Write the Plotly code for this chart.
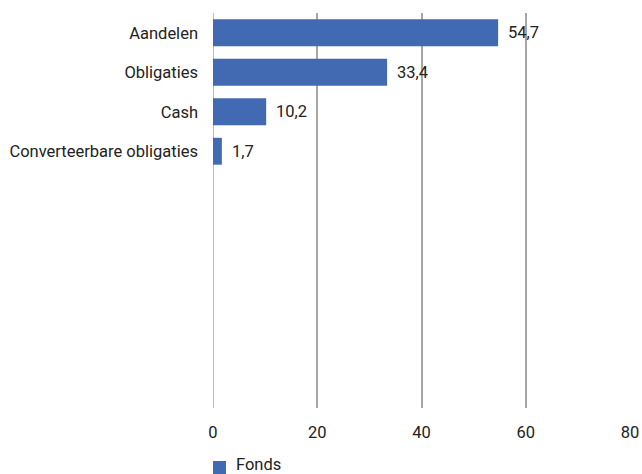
import plotly.graph_objects as go

# Asset allocation of the fund (percent)
categories = ["Aandelen", "Obligaties", "Cash", "Converteerbare obligaties"]
values = [54.7, 33.4, 10.2, 1.7]
series_name = "Fonds"
x_ticks = [0, 20, 40, 60, 80]

bar_color = "#416AB2"
grid_color = "#A6A6A6"
text_color = "#222222"
font_family = "Roboto, Noto Sans, sans-serif"
font_size = 16.5

W, H = 642, 474
M_L, M_R, M_T, M_B = 213, 12, 13, 66
plot_w = W - M_L - M_R
plot_h = H - M_T - M_B


def px_to_paper(px, py):
    """Convert a pixel position in the page to paper coordinates."""
    return (px - M_L) / plot_w, (H - M_B - py) / plot_h


positions = list(range(len(categories)))

fig = go.Figure()
fig.add_trace(go.Bar(
    x=values,
    y=positions,
    orientation="h",
    name=series_name,
    marker=dict(color=bar_color, line=dict(width=0)),
    width=0.68,
    showlegend=False,
    hoverinfo="skip",
))

# value labels to the right of each bar, Dutch decimal comma
for pos, v in zip(positions, values):
    fig.add_annotation(
        x=v, y=pos, xref="x", yref="y",
        text=f"{v:.1f}".replace(".", ","),
        showarrow=False, xanchor="left", yanchor="middle",
        xshift=8,
        font=dict(family=font_family, size=font_size, color=text_color),
    )

fig.update_layout(
    width=W, height=H,
    margin=dict(l=M_L, r=M_R, t=M_T, b=M_B, autoexpand=False),
    paper_bgcolor="white", plot_bgcolor="white",
    font=dict(family=font_family, size=font_size, color=text_color),
    xaxis=dict(
        range=[0, 80], tickvals=x_ticks,
        showgrid=True, gridcolor=grid_color, gridwidth=1.5,
        zeroline=False, showline=False,
        ticks="outside", ticklen=9, tickcolor="rgba(0,0,0,0)",
        tickfont=dict(size=font_size, color=text_color),
        fixedrange=True,
    ),
    yaxis=dict(
        range=[9.5, -0.5],
        tickvals=positions, ticktext=categories,
        showgrid=False, zeroline=False, showline=False,
        ticks="", ticklabelstandoff=14,
        tickfont=dict(size=font_size, color=text_color),
        fixedrange=True,
    ),
    showlegend=False,
)

# the x=0 gridline doubles as the category axis line
fig.add_shape(type="line", xref="x", yref="paper", x0=0, x1=0, y0=0, y1=1,
              line=dict(color=grid_color, width=1.5), layer="below")

# series key below the chart: swatch plus name
sx0, sy0 = px_to_paper(213, 474)
sx1, sy1 = px_to_paper(226, 461)
fig.add_shape(type="rect", xref="paper", yref="paper",
              x0=sx0, x1=sx1, y0=sy0, y1=sy1,
              fillcolor=bar_color, line=dict(width=0))
tx, ty = px_to_paper(234, 465)
fig.add_annotation(x=tx, y=ty, xref="paper", yref="paper",
                   text=series_name, showarrow=False,
                   xanchor="left", yanchor="middle",
                   font=dict(family=font_family, size=font_size, color=text_color))

fig.write_html("out.html")
